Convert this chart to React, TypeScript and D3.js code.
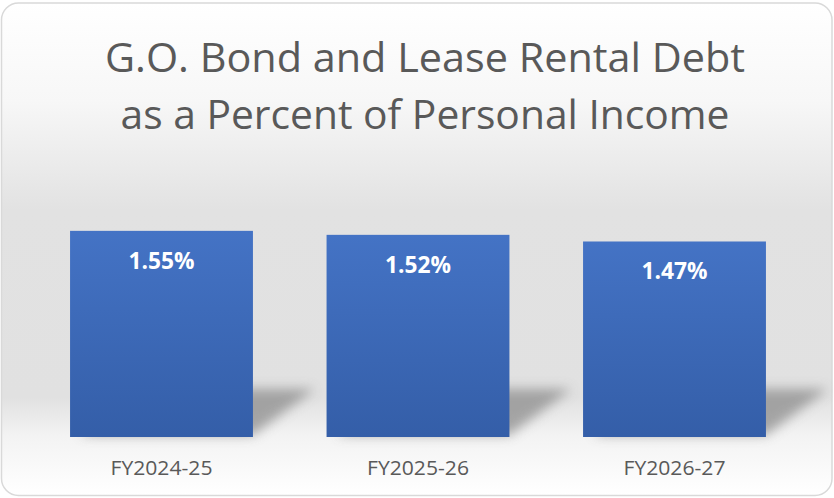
import React from "react";
import * as d3 from "d3";

const categories = ["FY2024-25", "FY2025-26", "FY2026-27"];
const values = [1.55, 1.52, 1.47];
const valueLabels = ["1.55%", "1.52%", "1.47%"];
const titleLines = ["G.O. Bond and Lease Rental Debt", "as a Percent of Personal Income"];

const W = 834;
const H = 498;

export default function App() {
  const x = d3.scaleBand<string>().domain(categories).range([33.25, 802.75]).paddingInner(0.287).paddingOuter(0.1435);
  const y = d3.scaleLinear().domain([0, 2]).range([437, 171]);
  const base = y(0);
  const font = "'Open Sans', 'Liberation Sans', Arial, sans-serif";
  return (
    <svg width={W} height={H} style={{ position: "absolute", left: 0, top: 0 }}>
      <defs>
        <linearGradient id="bg" x1="0" y1="0" x2="0" y2="1">
          <stop offset="0" stopColor="#ffffff" />
          <stop offset="0.2" stopColor="#f7f7f7" />
          <stop offset="0.42" stopColor="#e2e2e2" />
          <stop offset="0.8" stopColor="#e1e1e1" />
          <stop offset="0.88" stopColor="#f3f3f3" />
          <stop offset="1" stopColor="#ffffff" />
        </linearGradient>
        <linearGradient id="bar" x1="0" y1="0" x2="0" y2="1">
          <stop offset="0" stopColor="#4473c5" />
          <stop offset="1" stopColor="#345ea8" />
        </linearGradient>
        <filter id="blur" x="-50%" y="-50%" width="200%" height="200%">
          <feGaussianBlur stdDeviation="6" />
        </filter>
      </defs>
      <rect x={0} y={0} width={W} height={H} fill="#ffffff" />
      <rect x={1.5} y={3} width={830.5} height={492.5} rx={17} ry={17} fill="url(#bg)" stroke="#d9d9d9" strokeWidth={1.5} />
      {titleLines.map((t, i) => (
        <text key={i} x={425} y={72 + i * 57} textAnchor="middle" fontFamily={font} fontSize={40} fill="#595959"
          textLength={i === 0 ? 640 : 609} lengthAdjust="spacingAndGlyphs">{t}</text>
      ))}
      {categories.map((c, i) => {
        const x0 = x(c)!;
        const bw = x.bandwidth();
        const dx = 62, dy = 48;
        const pts = [
          [x0 + 10, base - 2],
          [x0 + bw, base - 2],
          [x0 + bw + dx, base - dy],
          [x0 + 10 + dx, base - dy],
        ].map(p => p.join(",")).join(" ");
        return (
          <g key={c}>
            <polygon points={pts} fill="#8c8c8c" opacity={0.75} filter="url(#blur)" />
          </g>
        );
      })}
      {categories.map((c, i) => {
        const x0 = x(c)!;
        const bw = x.bandwidth();
        const top = y(values[i]);
        return (
          <g key={c}>
            <rect x={x0} y={top} width={bw} height={base - top} fill="url(#bar)" />
            <text x={x0 + bw / 2} y={top + 38} textAnchor="middle" fontFamily={font} fontWeight="bold" fontSize={23} fill="#ffffff"
              textLength={66} lengthAdjust="spacingAndGlyphs">{valueLabels[i]}</text>
            <text x={x0 + bw / 2} y={475} textAnchor="middle" fontFamily={font} fontSize={20} fill="#595959"
              textLength={102} lengthAdjust="spacingAndGlyphs">{c}</text>
          </g>
        );
      })}
    </svg>
  );
}
